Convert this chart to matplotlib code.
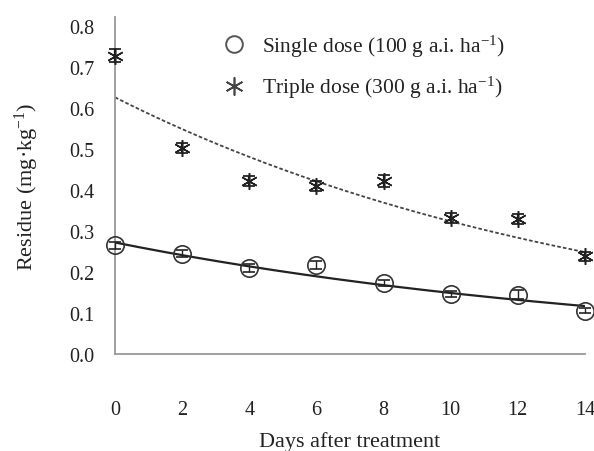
import matplotlib
matplotlib.use('Agg')
import matplotlib.pyplot as plt
from matplotlib.lines import Line2D
import numpy as np

plt.rcParams['font.family'] = ['Liberation Serif', 'DejaVu Serif']
plt.rcParams['mathtext.fontset'] = 'custom'
plt.rcParams['mathtext.rm'] = 'Liberation Serif'
plt.rcParams['mathtext.it'] = 'Liberation Serif:italic'

# data
days = [0, 2, 4, 6, 8, 10, 12, 14]
single = [0.265, 0.245, 0.210, 0.217, 0.173, 0.146, 0.145, 0.106]
single_err = [0.008, 0.008, 0.010, 0.010, 0.007, 0.007, 0.010, 0.006]
triple = [0.728, 0.502, 0.422, 0.410, 0.422, 0.331, 0.330, 0.238]
triple_err = [0.015, 0.012, 0.012, 0.012, 0.014, 0.012, 0.012, 0.012]

# first-order decay fits (C0, k) as drawn
single_fit = [0.272, 0.0603]
triple_fit = [0.626, 0.0660]

fig = plt.figure(figsize=(5.94, 4.52), dpi=100)
ax = fig.add_axes([0.1936, 0.2146, 0.7912, 0.7456])

t = np.linspace(0, 14, 200)
ax.plot(t, single_fit[0] * np.exp(-single_fit[1] * t), color='#222222', lw=1.6)
ax.plot(t, triple_fit[0] * np.exp(-triple_fit[1] * t), color='#444444', lw=1.3,
        linestyle=(0, (2, 1.2)))

ax.errorbar(days, single, yerr=single_err, fmt='o', ms=12.5, mfc='none', mec='#333333',
            mew=1.2, ecolor='#222222', elinewidth=1.0, capsize=4, capthick=1.0,
            clip_on=False, zorder=3)
ax.errorbar(days, triple, yerr=triple_err, fmt='none', ecolor='#111111',
            elinewidth=1.6, capsize=4.5, capthick=1.2, clip_on=False, zorder=3)
ax.plot(days, triple, linestyle='none', marker=(6, 2, 0), ms=12, mec='#222222',
        mew=1.1, clip_on=False, zorder=4)

ax.set_xlim(0, 14)
ax.set_ylim(0, 0.822)
ax.set_xticks(days)
ax.set_yticks(np.arange(0, 0.81, 0.1))
ax.set_yticklabels(['%.1f' % v for v in np.arange(0, 0.81, 0.1)])
ax.tick_params(length=0, labelsize=14.5, colors='#222222')
ax.tick_params(axis='x', pad=33)
ax.tick_params(axis='y', pad=15)

for s in ['top', 'right']:
    ax.spines[s].set_visible(False)
for s in ['left', 'bottom']:
    ax.spines[s].set_color('#999999')
    ax.spines[s].set_linewidth(1.3)

ax.set_xlabel('Days after treatment', fontsize=16, color='#222222', labelpad=9)
ax.set_ylabel('Residue (mg·kg$^{-1}$)', fontsize=16, color='#222222', labelpad=20)

handles = [
    Line2D([], [], linestyle='none', marker='o', ms=12, mfc='none', mec='#555555', mew=1.4),
    Line2D([], [], linestyle='none', marker=(6, 2, 0), ms=13, mec='#444444', mew=1.2),
]
labels = ['Single dose (100 g a.i. ha$^{-1}$)', 'Triple dose (300 g a.i. ha$^{-1}$)']
ax.legend(handles, labels, loc='upper left', bbox_to_anchor=(0.185, 1.01),
          frameon=False, fontsize=15.5, labelspacing=0.7, handletextpad=0.7,
          handlelength=1.2, labelcolor='#222222')

fig.savefig('out.png', dpi=100)
